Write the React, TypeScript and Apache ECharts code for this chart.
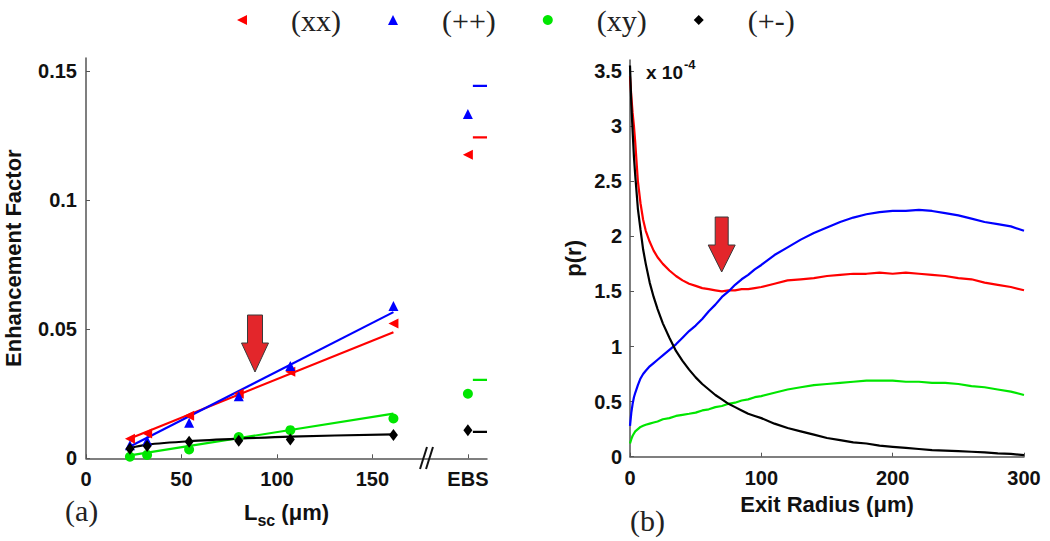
import React, { useEffect, useRef } from "react";
import * as echarts from "echarts";

// ---------- Panel (a): enhancement factor vs L_sc ----------
const LSC = [23, 32, 54, 80, 107, 161];
const EBS_X = 200;
const XX_PTS = [0.0076, 0.0096, 0.0165, 0.025, 0.0335, 0.0522];
const PP_PTS = [0.0051, 0.0068, 0.0138, 0.024, 0.0357, 0.059];
const XY_PTS = [0.0006, 0.0013, 0.0034, 0.0082, 0.0109, 0.0154];
const PM_PTS = [0.0037, 0.0048, 0.0064, 0.0068, 0.0073, 0.009];
// EBS column: measured markers [xx, ++, xy, +-] and reference dashes
const EBS_MEAS = [0.1175, 0.1333, 0.025, 0.0109];
const EBS_REF = [0.1243, 0.1442, 0.0304, 0.0102];
const EBS_DASH_X = [202.6, 210];
// fitted lines
const FIT_X = [23, 161];
const FIT_XX = [0.0077, 0.0488];
const FIT_PP = [0.0046, 0.0566];
const FIT_XY = [0.0011, 0.0173];
const FIT_PM_X = [23, 32, 54, 80, 107, 161];
const FIT_PM = [0.004, 0.0053, 0.0066, 0.0076, 0.0084, 0.0093];
const X_TICK_LABELS: Record<number, string> = { 0: "0", 50: "50", 100: "100", 150: "150", 200: "EBS" };

// ---------- Panel (b): p(r) vs exit radius (units of 1e-4) ----------
const R = [0, 1, 2, 3, 4, 6, 8, 10, 12, 15, 18, 21, 25, 30, 35, 40, 45, 50, 55, 60, 65, 70, 75, 80, 85, 90, 95, 100,
  110, 120, 130, 140, 150, 160, 170, 180, 190, 200, 210, 220, 230, 240, 250, 260, 270, 280, 290, 300];
const P_XX = [3.45, 3.27, 3.12, 3.0, 2.85, 2.5, 2.3, 2.15, 2.05, 1.95, 1.87, 1.81, 1.75, 1.69, 1.64, 1.6, 1.57, 1.55, 1.53, 1.52, 1.51, 1.5, 1.51, 1.51, 1.52, 1.52, 1.53, 1.54,
  1.57, 1.6, 1.61, 1.62, 1.64, 1.65, 1.66, 1.66, 1.67, 1.66, 1.67, 1.66, 1.65, 1.64, 1.62, 1.61, 1.58, 1.56, 1.54, 1.51];
const P_PP = [0.28, 0.4, 0.48, 0.54, 0.58, 0.65, 0.71, 0.75, 0.78, 0.82, 0.85, 0.88, 0.92, 0.97, 1.02, 1.08, 1.14, 1.19, 1.25, 1.32, 1.38, 1.45, 1.5, 1.56, 1.61, 1.65, 1.7, 1.74,
  1.83, 1.9, 1.97, 2.03, 2.08, 2.13, 2.17, 2.2, 2.22, 2.23, 2.23, 2.24, 2.23, 2.21, 2.19, 2.16, 2.13, 2.11, 2.09, 2.05];
const P_XY = [0.12, 0.16, 0.19, 0.21, 0.23, 0.25, 0.27, 0.28, 0.29, 0.3, 0.31, 0.32, 0.34, 0.35, 0.37, 0.38, 0.39, 0.4, 0.42, 0.43, 0.45, 0.46, 0.48, 0.49, 0.51, 0.52, 0.54, 0.55,
  0.58, 0.61, 0.63, 0.65, 0.66, 0.67, 0.68, 0.69, 0.69, 0.69, 0.68, 0.68, 0.67, 0.67, 0.66, 0.64, 0.63, 0.61, 0.59, 0.56];
const P_PM = [3.55, 3.2, 2.95, 2.72, 2.55, 2.25, 2.06, 1.88, 1.75, 1.58, 1.45, 1.34, 1.21, 1.08, 0.96, 0.87, 0.79, 0.72, 0.66, 0.61, 0.56, 0.52, 0.48, 0.45, 0.42, 0.39, 0.37, 0.35,
  0.3, 0.26, 0.23, 0.2, 0.17, 0.15, 0.13, 0.12, 0.1, 0.09, 0.08, 0.07, 0.06, 0.055, 0.05, 0.045, 0.04, 0.03, 0.025, 0.015];

const NAMES = ["(xx)", "(++)", "(xy)", "(+-)"];
const COLORS = ["#ff0000", "#0000ff", "#00e600", "#000000"];
const LEGEND_ICONS = ["path://M10,0 L10,10 L0,5 Z", "triangle", "circle", "diamond"];

const SANS = "Liberation Sans, Arial, Helvetica, sans-serif";
const SERIF = "Liberation Serif, Times New Roman, serif";

function zip(xs: number[], ys: number[]) {
  return xs.map((x, i) => [x, ys[i]]);
}

export default function App() {
  const ref = useRef<HTMLDivElement>(null);
  useEffect(() => {
    document.body.style.margin = "0";
    const chart = echarts.init(ref.current!, null, { renderer: "svg" });

    const pts = [XX_PTS, PP_PTS, XY_PTS, PM_PTS];
    const symbols: any[] = [
      { symbol: "triangle", symbolSize: 10, symbolRotate: 90 },
      { symbol: "triangle", symbolSize: 10, symbolRotate: 0 },
      { symbol: "circle", symbolSize: 10, symbolRotate: 0 },
      { symbol: "diamond", symbolSize: [9, 12], symbolRotate: 0 },
    ];
    const scatterSeries = NAMES.map((name, k) => ({
      type: "scatter",
      name,
      xAxisIndex: 0,
      yAxisIndex: 0,
      ...symbols[k],
      itemStyle: { color: COLORS[k], opacity: 1 },
      z: 5,
      data: [...zip(LSC, pts[k]), [EBS_X, EBS_MEAS[k]]],
    }));
    const fits = [zip(FIT_X, FIT_XX), zip(FIT_X, FIT_PP), zip(FIT_X, FIT_XY), zip(FIT_PM_X, FIT_PM)];
    const fitSeries = fits.map((data, k) => ({
      type: "line",
      name: NAMES[k] + " fit",
      xAxisIndex: 0,
      yAxisIndex: 0,
      showSymbol: false,
      smooth: k === 3 ? 0.3 : false,
      lineStyle: { color: COLORS[k], width: 2.2 },
      z: 3,
      data,
    }));
    const dashSeries = NAMES.map((name, k) => ({
      type: "line",
      name: name + " EBS ref",
      xAxisIndex: 0,
      yAxisIndex: 0,
      showSymbol: false,
      lineStyle: { color: COLORS[k], width: 2.2 },
      data: EBS_DASH_X.map((x) => [x, EBS_REF[k]]),
    }));
    const curves = [P_XX, P_PP, P_XY, P_PM];
    const curveSeries = curves.map((vals, k) => ({
      type: "line",
      name: NAMES[k] + " p(r)",
      xAxisIndex: 1,
      yAxisIndex: 1,
      showSymbol: false,
      lineStyle: { color: COLORS[k], width: 2.2 },
      z: k === 3 ? 4 : 3,
      data: zip(R, vals),
    }));

    const axisLine = { show: true, lineStyle: { color: "#555", width: 1.5 } };
    const axisTick = { show: true, inside: true, length: 4, lineStyle: { color: "#555" } };
    const labelStyle = { color: "#111", fontSize: 20, fontWeight: "bold" as const, fontFamily: SANS };
    const nameStyle = { color: "#111", fontSize: 22, fontWeight: "bold" as const, fontFamily: SANS };

    const arrow = (cx: number, top: number, headY: number, tip: number, sw: number, hw: number) => ({
      type: "polygon",
      shape: {
        points: [
          [cx - sw / 2, top],
          [cx + sw / 2, top],
          [cx + sw / 2, headY],
          [cx + hw / 2, headY],
          [cx, tip],
          [cx - hw / 2, headY],
          [cx - sw / 2, headY],
        ],
      },
      style: { fill: "#e3262b", stroke: "#3a3a3a", lineWidth: 1 },
      z: 20,
    });

    chart.setOption({
      animation: false,
      backgroundColor: "#ffffff",
      legend: {
        data: NAMES.map((name, k) => ({ name, icon: LEGEND_ICONS[k] })),
        left: 232,
        top: 0,
        itemWidth: 10,
        itemHeight: 10,
        itemGap: 47,
        selectedMode: false,
        formatter: (name: string) => "{g| }{t|" + name + "}",
        textStyle: {
          rich: {
            g: { width: 39 },
            t: { width: 60, fontSize: 30, fontFamily: SERIF, color: "#222" },
          },
        },
      },
      grid: [
        { left: 86, top: 58, width: 401, height: 400.3 },
        { left: 630, top: 60, width: 394, height: 396.7 },
      ],
      xAxis: [
        {
          type: "value",
          gridIndex: 0,
          min: 0,
          max: 210,
          interval: 50,
          splitLine: { show: false },
          axisLine,
          axisTick,
          axisLabel: {
            ...labelStyle,
            margin: 11,
            showMaxLabel: false,
            formatter: (v: number) => X_TICK_LABELS[v] ?? "",
          },
          name: "{a|L}{b|sc}{a| (μm)}",
          nameLocation: "middle",
          nameGap: 38,
          nameTextStyle: {
            rich: {
              a: { ...nameStyle },
              b: { ...nameStyle, fontSize: 16, padding: [16, 0, 0, 0] },
            },
          },
        },
        {
          type: "value",
          gridIndex: 1,
          min: 0,
          max: 300,
          interval: 100,
          splitLine: { show: false },
          axisLine,
          axisTick,
          axisLabel: { ...labelStyle, margin: 11 },
          name: "Exit Radius (μm)",
          nameLocation: "middle",
          nameGap: 37,
          nameTextStyle: nameStyle,
        },
      ],
      yAxis: [
        {
          type: "value",
          gridIndex: 0,
          min: 0,
          max: 0.155,
          interval: 0.05,
          splitLine: { show: false },
          axisLine,
          axisTick,
          axisLabel: {
            ...labelStyle,
            margin: 9,
            showMaxLabel: false,
            formatter: (v: number) => String(parseFloat(v.toFixed(3))),
          },
          name: "Enhancement Factor",
          nameLocation: "middle",
          nameGap: 62,
          nameTextStyle: nameStyle,
        },
        {
          type: "value",
          gridIndex: 1,
          min: 0,
          max: 3.6,
          interval: 0.5,
          splitLine: { show: false },
          axisLine,
          axisTick,
          axisLabel: {
            ...labelStyle,
            margin: 8,
            showMaxLabel: false,
            formatter: (v: number) => String(parseFloat(v.toFixed(2))),
          },
          name: "p(r)",
          nameLocation: "middle",
          nameGap: 46,
          nameTextStyle: nameStyle,
        },
      ],
      series: [...scatterSeries, ...fitSeries, ...dashSeries, ...curveSeries],
      graphic: [
        // axis break marks
        { type: "line", shape: { x1: 420, y1: 469, x2: 427, y2: 447 }, style: { stroke: "#111", lineWidth: 2 }, z: 10 },
        { type: "line", shape: { x1: 426, y1: 469, x2: 433, y2: 447 }, style: { stroke: "#111", lineWidth: 2 }, z: 10 },
        // panel labels
        { type: "text", left: 65, top: 495, style: { text: "(a)", font: "30px " + SERIF, fill: "#222" } },
        { type: "text", left: 630, top: 505, style: { text: "(b)", font: "30px " + SERIF, fill: "#222" } },
        // exponent
        {
          type: "text",
          left: 646,
          top: 58,
          style: {
            text: "{a|x 10}{b|-4}",
            rich: {
              a: { fontSize: 19, fontWeight: "bold", fontFamily: SANS, fill: "#111", padding: [6, 0, 0, 0] },
              b: { fontSize: 13, fontWeight: "bold", fontFamily: SANS, fill: "#111", padding: [0, 0, 10, 1] },
            },
          },
        },
        arrow(255, 315, 343, 372, 15, 27),
        arrow(721.7, 217, 245, 272, 13, 27),
      ],
    });
    return () => chart.dispose();
  }, []);
  return <div ref={ref} style={{ width: 1050, height: 541 }} />;
}
